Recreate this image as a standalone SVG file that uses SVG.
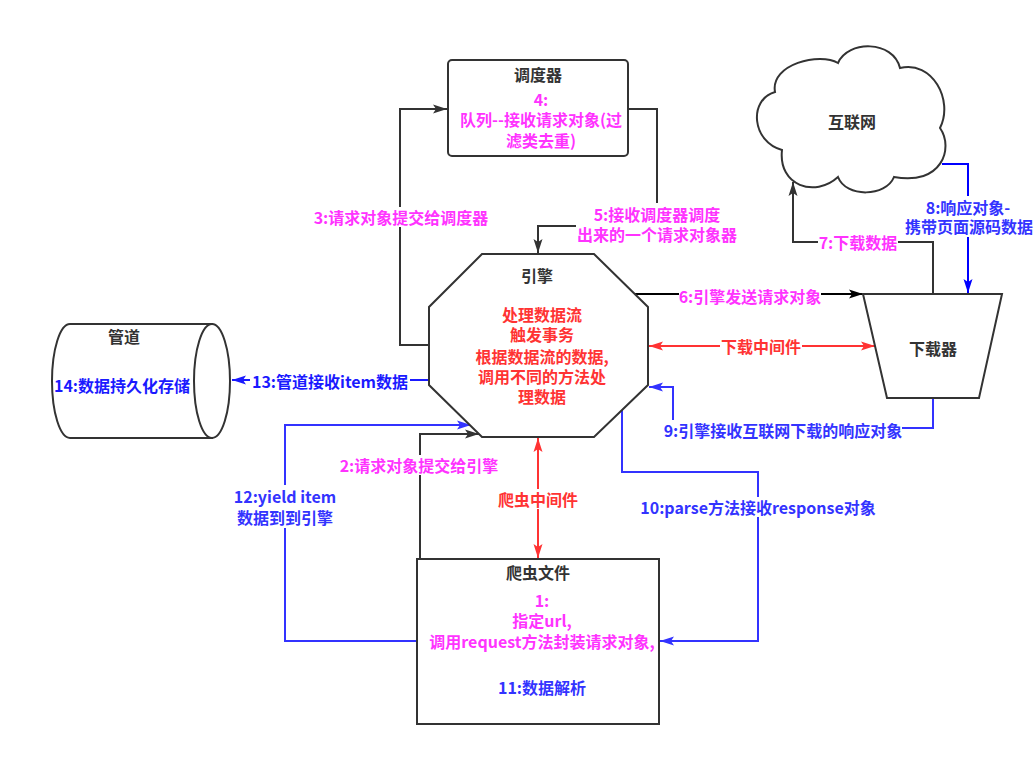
<svg xmlns="http://www.w3.org/2000/svg" width="1034" height="757" viewBox="0 0 1034 757">
<style>
text{font-family:"Noto Sans CJK SC","Noto Sans",sans-serif;font-weight:bold;font-size:16px;text-anchor:middle;dominant-baseline:central}
.t{fill:#333333}.m{fill:#FF33FF}.b{fill:#3333FF}.bb{fill:#1A1AFF}.r{fill:#FF3333}
.shape{fill:#ffffff;stroke:#333333;stroke-width:2}
.c{fill:none;stroke-width:2}
.k{stroke:#333333}.kb{stroke:#000000}.bl{stroke:#3333FF}.bl2{stroke:#0000FF}.bl3{stroke:#1A1AFF}.rd{stroke:#FF3333}
.bg{fill:#ffffff}
</style>
<defs>
<marker id="ak" markerUnits="userSpaceOnUse" markerWidth="14" markerHeight="10" refX="14" refY="5" orient="auto"><path d="M0,0.5 L14,5 L0,9.5 L3,5 Z" fill="#333333"/></marker>
<marker id="akb" markerUnits="userSpaceOnUse" markerWidth="14" markerHeight="10" refX="14" refY="5" orient="auto"><path d="M0,0.5 L14,5 L0,9.5 L3,5 Z" fill="#000000"/></marker>
<marker id="ab" markerUnits="userSpaceOnUse" markerWidth="14" markerHeight="10" refX="14" refY="5" orient="auto"><path d="M0,0.5 L14,5 L0,9.5 L3,5 Z" fill="#3333FF"/></marker>
<marker id="ab2" markerUnits="userSpaceOnUse" markerWidth="14" markerHeight="10" refX="14" refY="5" orient="auto"><path d="M0,0.5 L14,5 L0,9.5 L3,5 Z" fill="#0000FF"/></marker>
<marker id="ab3" markerUnits="userSpaceOnUse" markerWidth="14" markerHeight="10" refX="14" refY="5" orient="auto"><path d="M0,0.5 L14,5 L0,9.5 L3,5 Z" fill="#1A1AFF"/></marker>
<marker id="ar" markerUnits="userSpaceOnUse" markerWidth="14" markerHeight="10" refX="14" refY="5" orient="auto-start-reverse"><path d="M0,0.5 L14,5 L0,9.5 L3,5 Z" fill="#FF3333"/></marker>
</defs>
<rect width="1034" height="757" fill="#ffffff"/>

<g id="connectors">
<path class="c k" d="M430,345 H400 V109 H447" marker-end="url(#ak)"/>
<path class="c k" d="M628,109 H657 V226 H538 V253" marker-end="url(#ak)"/>
<path class="c kb" d="M635,294 H863" marker-end="url(#akb)"/>
<path class="c rd" d="M649,346 H875" marker-start="url(#ar)" marker-end="url(#ar)"/>
<path class="c bl" d="M933,398 V428 H673 V387 H649" marker-end="url(#ab)"/>
<path class="c k" d="M933,294 V242 H793 V182" marker-end="url(#ak)"/>
<path class="c bl2" d="M942,164 H968 V293" marker-end="url(#ab2)"/>
<path class="c bl3" d="M429,380 H232" marker-end="url(#ab3)"/>
<path class="c k" d="M420,559 V434 H479" marker-end="url(#ak)"/>
<path class="c bl" d="M417,641 H285 V425 H471" marker-end="url(#ab)"/>
<path class="c rd" d="M538,438 V558" marker-start="url(#ar)" marker-end="url(#ar)"/>
<path class="c bl" d="M622,410 V472 H758 V641 H660" marker-end="url(#ab)"/>
</g>

<g id="scheduler">
<rect class="shape" x="448" y="60" width="180" height="96" rx="4"/>
<text class="t" x="538" y="74">调度器</text>
<text class="m" x="541" y="99">4:</text>
<text class="m" x="541" y="119">队列--接收请求对象(过</text>
<text class="m" x="541" y="140">滤类去重)</text>
</g>

<g id="engine">
<polygon class="shape" points="482,254 594,254 648,307 648,385 594,437 482,437 429,385 429,307"/>
<text class="t" x="537" y="275">引擎</text>
<text class="r" x="542" y="314">处理数据流</text>
<text class="r" x="542" y="334">触发事务</text>
<text class="r" x="542" y="356">根据数据流的数据,</text>
<text class="r" x="542" y="376">调用不同的方法处</text>
<text class="r" x="542" y="396">理数据</text>
</g>

<g id="internet">
<path class="shape" d="M782,150 C752,142 748,100 775,92 C770,64 820,52 838,63 C848,40 893,40 900,68 C932,60 954,100 940,128 C954,148 942,186 894,177 C886,197 846,198 838,177 C815,198 778,186 782,150 Z"/>
<text class="t" x="852" y="121">互联网</text>
</g>

<g id="downloader">
<polygon class="shape" points="863,294 1002,294 979,398 887,398"/>
<text class="t" x="933" y="348">下载器</text>
</g>

<g id="pipeline">
<path class="shape" d="M70,324 H212 V438 H70 A18,57 0 0 1 70,324 Z"/>
<ellipse class="shape" cx="212" cy="381" rx="18" ry="57"/>
<text class="t" x="124" y="336">管道</text>
<text class="bb" x="122" y="385">14:数据持久化存储</text>
</g>

<g id="spider">
<rect class="shape" x="417" y="559" width="242" height="165"/>
<text class="t" x="538" y="572">爬虫文件</text>
<text class="m" x="542" y="600">1:</text>
<text class="m" x="542" y="620">指定url,</text>
<text class="m" x="542" y="641">调用request方法封装请求对象,</text>
<text class="b" x="542" y="687">11:数据解析</text>
</g>

<g id="labels">
<rect class="bg" x="314" y="207" width="174" height="20"/>
<text class="m" x="401" y="217">3:请求对象提交给调度器</text>
<rect class="bg" x="576" y="203" width="162" height="42"/>
<text class="m" x="657" y="214">5:接收调度器调度</text>
<text class="m" x="657" y="234">出来的一个请求对象器</text>
<rect class="bg" x="679" y="285" width="142" height="20"/>
<text class="m" x="750" y="296">6:引擎发送请求对象</text>
<rect class="bg" x="818" y="232" width="80" height="20"/>
<text class="m" x="858" y="242">7:下载数据</text>
<rect class="bg" x="904" y="196" width="130" height="41"/>
<text class="b" x="968" y="207">8:响应对象-</text>
<text class="b" x="969" y="226">携带页面源码数据</text>
<rect class="bg" x="664" y="420" width="238" height="20"/>
<text class="b" x="783" y="430">9:引擎接收互联网下载的响应对象</text>
<rect class="bg" x="720" y="336" width="82" height="20"/>
<text class="r" x="761" y="346">下载中间件</text>
<rect class="bg" x="250" y="371" width="160" height="20"/>
<text class="bb" x="330" y="381">13:管道接收item数据</text>
<rect class="bg" x="340" y="455" width="160" height="20"/>
<text class="m" x="419" y="465">2:请求对象提交给引擎</text>
<rect class="bg" x="232" y="485" width="108" height="43"/>
<text class="b" x="285" y="496">12:yield item</text>
<text class="b" x="285" y="517">数据到到引擎</text>
<rect class="bg" x="497" y="489" width="82" height="20"/>
<text class="r" x="538" y="499">爬虫中间件</text>
<rect class="bg" x="638" y="497" width="240" height="20"/>
<text class="b" x="758" y="507">10:parse方法接收response对象</text>
</g>
</svg>
